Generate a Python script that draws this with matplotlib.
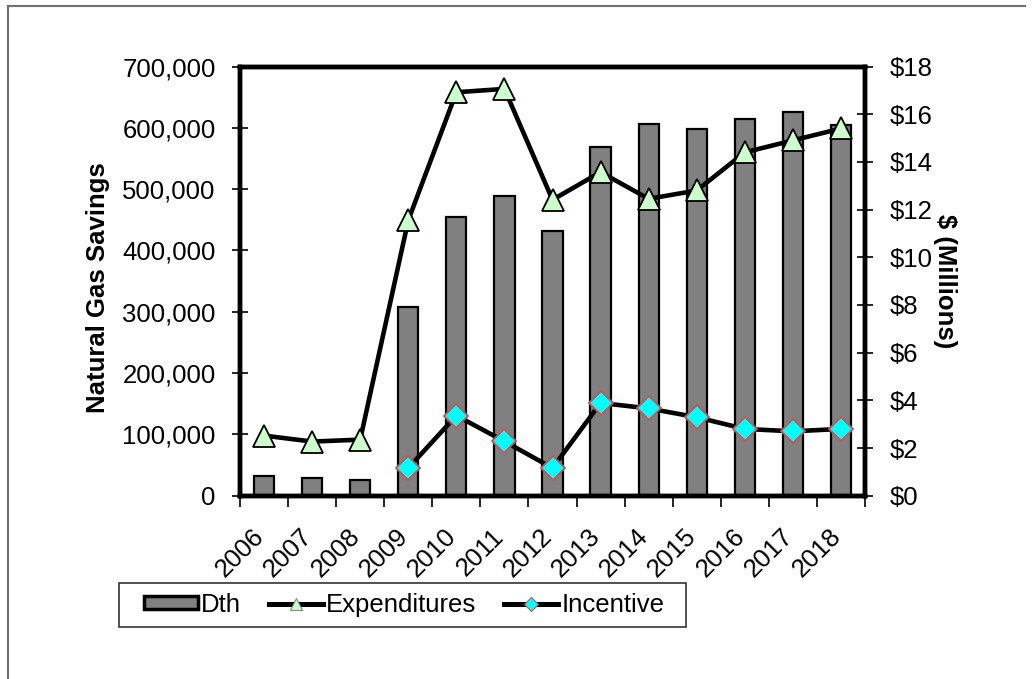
import matplotlib
matplotlib.use("Agg")
import matplotlib.pyplot as plt
from matplotlib.lines import Line2D
from matplotlib.patches import Patch, Rectangle
from matplotlib.transforms import ScaledTranslation
import numpy as np

years = ["2006", "2007", "2008", "2009", "2010", "2011", "2012",
         "2013", "2014", "2015", "2016", "2017", "2018"]
dth = [31500, 28300, 26100, 307000, 454000, 489000, 431000,
       569000, 607000, 598000, 614000, 625000, 605000]
expenditures = [2.52, 2.27, 2.35, 11.55, 16.92, 17.06, 12.41,
                13.57, 12.45, 12.80, 14.40, 14.90, 15.40]
incentive = [np.nan, np.nan, np.nan, 1.16, 3.36, 2.28, 1.16,
             3.89, 3.66, 3.29, 2.80, 2.70, 2.80]
left_ticks = [0, 100000, 200000, 300000, 400000, 500000, 600000, 700000]
right_ticks = [0, 2, 4, 6, 8, 10, 12, 14, 16, 18]
legend_labels = ["Dth", "Expenditures", "Incentive"]

plt.rcParams['font.family'] = ['Liberation Sans', 'DejaVu Sans']
FS = 18.5

fig = plt.figure(figsize=(10.34, 6.79), dpi=100)
W, H = 1034, 679
ax = fig.add_axes([240 / W, 1 - 495.7 / H, (865 - 240) / W, (495.7 - 66.5) / H])
x = np.arange(len(years))

ax.bar(x, dth, width=0.42, color="#808080", edgecolor="black", linewidth=1.6, zorder=2)
ax.set_xlim(-0.5, len(years) - 0.5)
ax.set_ylim(0, 700000)
ax.set_yticks(left_ticks)
ax.set_yticklabels([f"{v:,}" for v in left_ticks], fontsize=FS)
ax.set_xticks(np.arange(len(years) + 1) - 0.5)
ax.set_xticklabels([])
ax.tick_params(axis='x', which='major', direction='out', length=8, width=1.2)
ax.tick_params(axis='y', direction='inout', length=12, width=1.2, pad=11.5)
for s in ax.spines.values():
    s.set_linewidth(3.2)

# rotated category labels
base = ax.get_xaxis_transform()
off = ScaledTranslation(-4 / 100, -37 / 100, fig.dpi_scale_trans)
for i, yr in enumerate(years):
    ax.text(i, 0, yr, transform=base + off, fontsize=FS, rotation=45,
            ha='right', va='center', rotation_mode='anchor')

ax2 = ax.twinx()
ax2.set_ylim(0, 18)
ax2.set_yticks(right_ticks)
ax2.set_yticklabels([f"${v}" for v in right_ticks], fontsize=FS)
ax2.tick_params(axis='y', direction='inout', length=12, width=1.2, pad=11.5)
for s in ax2.spines.values():
    s.set_linewidth(3.2)
ax2.patch.set_visible(False)

ax2.plot(x, expenditures, color="black", linewidth=3.3, marker="^", markersize=16,
         markerfacecolor="#CCFFCC", markeredgecolor="black", markeredgewidth=1.3, zorder=3)
ax2.plot(x, incentive, color="black", linewidth=3.3, marker="D", markersize=12,
         markerfacecolor="#00FFFF", markeredgecolor="#D05050", markeredgewidth=1.3, zorder=3)

fig.text(98 / W, 1 - 288 / H, "Natural Gas Savings", rotation=90, fontsize=FS,
         fontweight='bold', ha='center', va='center')
fig.text(945 / W, 1 - 281 / H, "$ (Millions)", rotation=270, fontsize=FS,
         fontweight='bold', ha='center', va='center')

# legend frame
fig.add_artist(Rectangle((119 / W, 1 - 627 / H), (686 - 119) / W, 44 / H,
                         transform=fig.transFigure, facecolor="white",
                         edgecolor="#333333", linewidth=1.2, zorder=1))
handles = [
    Patch(facecolor="#808080", edgecolor="black", linewidth=2.5),
    Line2D([], [], color="black", linewidth=3.6, marker="^", markersize=9,
           markerfacecolor="#CCFFCC", markeredgecolor="#888888", markeredgewidth=0.8),
    Line2D([], [], color="black", linewidth=3.6, marker="D", markersize=7,
           markerfacecolor="#00FFFF", markeredgecolor="#D05050", markeredgewidth=0.8),
]
leg = fig.legend(handles, legend_labels, ncol=3,
                 bbox_to_anchor=(404 / W, 1 - 605 / H), loc='center',
                 fontsize=FS, frameon=False,
                 handlelength=2.1, handleheight=0.4, handletextpad=0.12,
                 columnspacing=1.1, borderpad=0, borderaxespad=0)
leg.set_zorder(2)

# outer border
fig.add_artist(Line2D([8 / W, 8 / W], [0, 1 - 6 / H], transform=fig.transFigure,
                      color="#707070", linewidth=1.5))
fig.add_artist(Line2D([8 / W, 1025 / W], [1 - 6 / H, 1 - 6 / H], transform=fig.transFigure,
                      color="#707070", linewidth=1.5))

fig.savefig("out.png", dpi=100)
